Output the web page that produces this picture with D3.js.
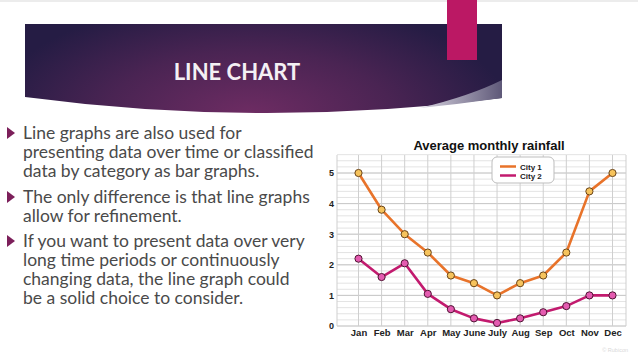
<!DOCTYPE html>
<html>
<head>
<meta charset="utf-8">
<script src="https://cdn.jsdelivr.net/npm/d3@7.9.0/dist/d3.min.js"></script>
<style>
  body { margin: 0; background: #fff; }
  svg { display: block; }
</style>
</head>
<body>
<svg id="slide"></svg>
<script>
// Values
const months = ['Jan', 'Feb', 'Mar', 'Apr', 'May', 'June', 'July', 'Aug', 'Sep', 'Oct', 'Nov', 'Dec'];
const city1 = [5.0, 3.8, 3.0, 2.4, 1.65, 1.4, 1.0, 1.4, 1.65, 2.4, 4.4, 5.0];
const city2 = [2.2, 1.6, 2.05, 1.05, 0.55, 0.25, 0.1, 0.25, 0.45, 0.65, 1.0, 1.0];
const yTicks = [0, 1, 2, 3, 4, 5];
const seriesNames = ['City 1', 'City 2'];

const bullets = [
  ['Line graphs are also used for', 'presenting data over time or classified', 'data by category as bar graphs.'],
  ['The only difference is that line graphs', 'allow for refinement.'],
  ['If you want to present data over very', 'long time periods or continuously', 'changing data, the line graph could', 'be a solid choice to consider.']
];

const width = 638;
const height = 359;
const svg = d3.select('#slide').attr('width', width).attr('height', height);
const defs = svg.append('defs');

// thin grey band along the top of the slide
svg.append('rect').attr('x', 0).attr('y', 0).attr('width', width).attr('height', 2).attr('fill', '#ececec');

// banner gradient
const grad = defs.append('radialGradient')
  .attr('id', 'bannerGrad')
  .attr('gradientUnits', 'userSpaceOnUse')
  .attr('cx', 250).attr('cy', 115).attr('r', 260)
  .attr('gradientTransform', 'translate(250,115) scale(1,0.45) translate(-250,-115)');
grad.append('stop').attr('offset', '0%').attr('stop-color', '#6e2c63');
grad.append('stop').attr('offset', '55%').attr('stop-color', '#4a2453');
grad.append('stop').attr('offset', '100%').attr('stop-color', '#251c44');

const wedgeGrad = defs.append('linearGradient').attr('id', 'wedgeGrad')
  .attr('x1', '0%').attr('x2', '100%').attr('y1', '0%').attr('y2', '0%');
wedgeGrad.append('stop').attr('offset', '0%').attr('stop-color', '#d8d4e0');
wedgeGrad.append('stop').attr('offset', '100%').attr('stop-color', '#5e5878');

svg.append('path')
  .attr('d', 'M 25 24 L 502 24 L 502 98 Q 263 128.5 25 97 Z')
  .attr('fill', 'url(#bannerGrad)');

// lighter sliver under the right end
svg.append('path')
  .attr('d', 'M 420 108 Q 470 96 502 80 L 502 98 Q 460 104 420 108 Z')
  .attr('fill', 'url(#wedgeGrad)');

// pink tab
svg.append('rect').attr('x', 447).attr('y', 0).attr('width', 30).attr('height', 60).attr('fill', '#bb1864');

svg.append('text')
  .attr('x', 237).attr('y', 80)
  .attr('text-anchor', 'middle')
  .attr('font-family', 'Lato, "Open Sans", sans-serif')
  .attr('font-weight', 'bold')
  .attr('font-size', 22)
  .attr('fill', '#f4f0f4')
  .text('LINE CHART');

// bullet text
const baselines = [[139, 158, 177], [203, 222], [247, 266, 285, 304]];
const textG = svg.append('g');
bullets.forEach((lines, bi) => {
  const first = baselines[bi][0];
  textG.append('path')
    .attr('d', `M 7 ${first - 12} L 15 ${first - 6} L 7 ${first} Z`)
    .attr('fill', '#7c1f5a');
  lines.forEach((line, li) => {
    textG.append('text')
      .attr('x', 23).attr('y', baselines[bi][li])
      .attr('font-family', 'Lato, "Open Sans", sans-serif')
      .attr('font-size', 17.5)
      .attr('fill', '#4a4a4a')
      .text(line);
  });
});

// chart image background (covers the overflowing text)
svg.append('rect').attr('x', 315).attr('y', 128).attr('width', 323).attr('height', 231).attr('fill', '#fff');

const plot = { left: 337, right: 626, top: 155, bottom: 326 };

const x = d3.scalePoint().domain(months).range([358.5, 612.5]);
const y = d3.scaleLinear().domain([0, 5]).range([plot.bottom, 173]);

const chart = svg.append('g');

// minor horizontal grid every 0.2
const minor = d3.range(0, 5.61, 0.2);
chart.append('g').selectAll('line').data(minor).join('line')
  .attr('x1', plot.left).attr('x2', plot.right)
  .attr('y1', d => y(d)).attr('y2', d => y(d))
  .attr('stroke', '#dcdcdc').attr('stroke-width', 0.8);
chart.append('g').selectAll('line').data(yTicks).join('line')
  .attr('x1', plot.left).attr('x2', plot.right)
  .attr('y1', d => y(d)).attr('y2', d => y(d))
  .attr('stroke', '#c8c8c8').attr('stroke-width', 1);
// vertical grid
chart.append('g').selectAll('line').data(months).join('line')
  .attr('x1', d => x(d)).attr('x2', d => x(d))
  .attr('y1', plot.top).attr('y2', plot.bottom)
  .attr('stroke', '#cfcfcf').attr('stroke-width', 1);
chart.append('line').attr('x1', plot.left).attr('x2', plot.left).attr('y1', plot.top).attr('y2', plot.bottom).attr('stroke', '#cfcfcf');
chart.append('line').attr('x1', plot.right).attr('x2', plot.right).attr('y1', plot.top).attr('y2', plot.bottom).attr('stroke', '#cfcfcf');

// y axis labels
const yAxis = d3.axisLeft(y).tickValues(yTicks).tickSize(0).tickPadding(0).tickFormat(d3.format('d'));
chart.append('g')
  .attr('transform', 'translate(334,0)')
  .call(yAxis)
  .call(g => g.select('.domain').remove())
  .call(g => g.selectAll('text')
    .attr('font-family', '"Liberation Sans", Arial, sans-serif')
    .attr('font-weight', 'bold').attr('font-size', 9).attr('fill', '#222'));

// x axis labels
const xAxis = d3.axisBottom(x).tickSize(0).tickPadding(3);
chart.append('g')
  .attr('transform', `translate(0,${plot.bottom})`)
  .call(xAxis)
  .call(g => g.select('.domain').remove())
  .call(g => g.selectAll('text')
    .attr('font-family', '"Liberation Sans", Arial, sans-serif')
    .attr('font-weight', 'bold').attr('font-size', 9.5).attr('fill', '#222'));

// title
chart.append('text')
  .attr('x', 489).attr('y', 150)
  .attr('text-anchor', 'middle')
  .attr('font-family', '"Liberation Sans", Arial, sans-serif')
  .attr('font-weight', 'bold').attr('font-size', 13).attr('fill', '#111')
  .text('Average monthly rainfall');

// series
const series = [
  { name: seriesNames[0], values: city1, line: '#e8732a', fill: '#f6c35c', stroke: '#6a4418' },
  { name: seriesNames[1], values: city2, line: '#c21a6e', fill: '#e45bb0', stroke: '#4f1433' }
];
const line = d3.line().x((d, i) => x(months[i])).y(d => y(d));
series.slice().reverse().forEach(s => {
  chart.append('path').datum(s.values)
    .attr('d', line).attr('fill', 'none')
    .attr('stroke', s.line).attr('stroke-width', 2.6).attr('stroke-linejoin', 'round');
  chart.append('g').selectAll('circle').data(s.values).join('circle')
    .attr('cx', (d, i) => x(months[i])).attr('cy', d => y(d))
    .attr('r', 3.6).attr('fill', s.fill).attr('stroke', s.stroke).attr('stroke-width', 1);
});

// legend
const legend = chart.append('g').attr('transform', 'translate(492,157)');
legend.append('rect').attr('width', 62).attr('height', 26).attr('rx', 5)
  .attr('fill', '#fff').attr('stroke', '#bdbdbd').attr('stroke-width', 1);
series.forEach((s, i) => {
  legend.append('line').attr('x1', 8).attr('x2', 24).attr('y1', 9.5 + i * 9).attr('y2', 9.5 + i * 9)
    .attr('stroke', s.line).attr('stroke-width', 2.5);
  legend.append('text').attr('x', 28).attr('y', 12.5 + i * 9)
    .attr('font-family', '"Liberation Sans", Arial, sans-serif')
    .attr('font-weight', 'bold').attr('font-size', 8).attr('fill', '#222')
    .text(s.name);
});

// watermark
svg.append('text').attr('x', 628).attr('y', 352).attr('text-anchor', 'end')
  .attr('font-family', '"Liberation Sans", Arial, sans-serif')
  .attr('font-size', 5.5).attr('fill', '#d8d8d8')
  .text('© Rubicon');
</script>
</body>
</html>
